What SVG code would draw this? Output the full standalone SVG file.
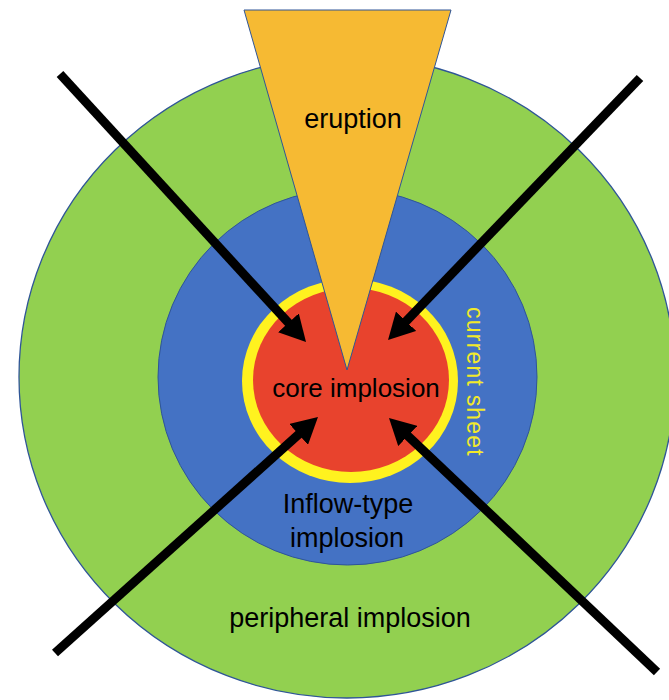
<svg xmlns="http://www.w3.org/2000/svg" width="669" height="700" viewBox="0 0 669 700">
<style>
.lbl{font-family:"Liberation Sans",Arial,sans-serif;font-size:27px;fill:#000;text-anchor:middle}
.arr{stroke:#000;stroke-width:9;fill:none;marker-end:url(#ah)}
</style>
<defs>
<marker id="ah" viewBox="0 0 26 28" refX="6" refY="14" markerWidth="26" markerHeight="28" markerUnits="userSpaceOnUse" orient="auto">
<path d="M0,0 L26,14 L0,28 z" fill="#000"/>
</marker>
</defs>
<rect width="669" height="700" fill="#fff"/>
<g id="peripheral">
<ellipse cx="347" cy="377" rx="328" ry="321" fill="#92D050" stroke="#2F5597" stroke-width="1.3"/>
<text class="lbl" x="350" y="627">peripheral implosion</text>
</g>
<g id="inflow">
<ellipse cx="347.5" cy="377" rx="189.5" ry="188" fill="#4472C4" stroke="#2F5597" stroke-width="1"/>
<text class="lbl" x="348" y="513">Inflow-type</text>
<text class="lbl" x="347" y="547">implosion</text>
</g>
<g id="current-sheet">
<ellipse cx="350" cy="381" rx="108" ry="102" fill="#FFF21F"/>
<text x="467" y="382" transform="rotate(90 467 382)" font-family="Liberation Sans, Arial, sans-serif" font-size="23" letter-spacing="1.2" fill="#F2EA2A" text-anchor="middle">current sheet</text>
</g>
<g id="core">
<ellipse cx="351" cy="380" rx="98" ry="92" fill="#E8432D"/>
</g>
<g id="eruption">
<polygon points="244,10 451,10 347,370" fill="#F6BA33" stroke="#2F5597" stroke-width="1"/>
<text class="lbl" x="353" y="128">eruption</text>
</g>
<g id="core-label">
<text class="lbl" x="356" y="397" style="font-size:26px">core implosion</text>
</g>
<g id="connectors">
<line class="arr" x1="60" y1="74" x2="292.5" y2="327.3"/>
<line class="arr" x1="640" y1="78" x2="401.9" y2="325.6"/>
<line class="arr" x1="55" y1="653" x2="303.1" y2="430.4"/>
<line class="arr" x1="657" y1="672" x2="403.5" y2="431.8"/>
</g>
</svg>
